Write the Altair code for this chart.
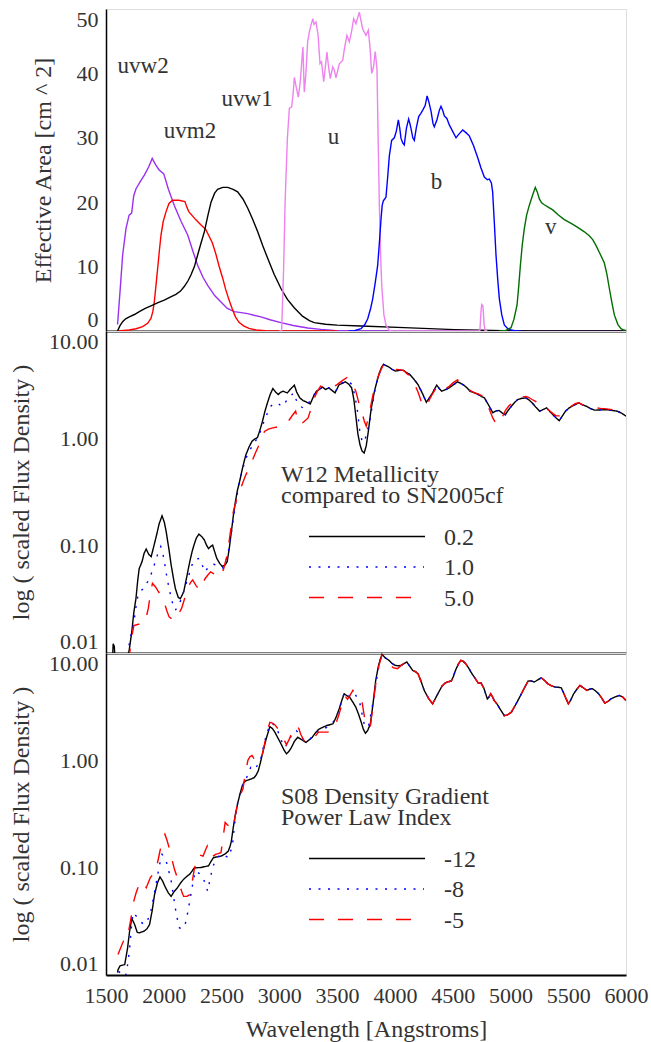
import altair as alt
import pandas as pd

FONT = "'Liberation Serif', 'Times New Roman', Times, serif"
TXT = "#333333"

# ---------------- Top panel: UVOT effective areas ----------------
uvw2_wl = [1600, 1625, 1644, 1673, 1700, 1722, 1740, 1760, 1800, 1832, 1870, 1900, 1930, 1960, 2000, 2040,
           2091, 2150, 2207, 2250, 2293, 2340, 2380, 2440, 2495, 2550, 2610, 2670, 2726, 2780, 2841, 2920,
           3014, 3120, 3245, 3360, 3473, 3600, 3800, 6000]
uvw2_area = [1.0, 7.0, 11.8, 15.9, 18.0, 18.3, 21.0, 22.1, 23.3, 24.2, 25.5, 26.8, 25.8, 25.0, 24.4, 22.0,
             19.5, 17.0, 14.9, 12.5, 10.2, 8.3, 7.1, 5.5, 4.5, 3.5, 3.0, 2.85, 2.7, 2.45, 2.2, 1.75,
             1.3, 0.85, 0.47, 0.25, 0.1, 0.03, 0.0, 0.0]

uvm2_wl = [1600, 1700, 1760, 1817, 1860, 1889, 1905, 1918, 1932, 1947, 1962, 1976, 1995, 2019, 2045, 2076,
           2130, 2183, 2200, 2218, 2276, 2320, 2362, 2420, 2450, 2478, 2510, 2535, 2565, 2593, 2620, 2651,
           2690, 2738, 2800, 2880, 3000, 3500]
uvm2_area = [0.0, 0.15, 0.35, 0.67, 1.2, 1.96, 3.0, 4.5, 7.0, 9.7, 12.5, 14.9, 17.0, 18.5, 19.8, 20.3,
             20.3, 20.1, 19.2, 18.5, 17.3, 16.5, 15.8, 13.7, 12.0, 10.1, 8.2, 6.5, 4.8, 3.4, 2.2, 1.35,
             0.8, 0.41, 0.15, 0.05, 0.0, 0.0]

uvw1_wl = [1600, 1620, 1644, 1670, 1702, 1750, 1788, 1840, 1889, 1950, 2004, 2060, 2105, 2145, 2177, 2210,
           2235, 2265, 2293, 2320, 2351, 2380, 2409, 2440, 2466, 2510, 2553, 2600, 2639, 2685, 2726, 2770,
           2813, 2855, 2899, 2955, 3014, 3070, 3129, 3200, 3260, 3302, 3400, 3500, 3707, 4081, 4514, 4947,
           5200, 6000]
uvw1_area = [0.0, 0.8, 1.45, 1.9, 2.2, 2.6, 3.0, 3.5, 3.9, 4.4, 4.8, 5.3, 5.7, 6.2, 6.9, 7.8,
             8.7, 10.0, 11.8, 13.5, 15.4, 17.8, 20.0, 21.4, 22.0, 22.3, 22.3, 22.0, 21.6, 20.5, 19.1, 17.3,
             15.4, 13.3, 11.3, 8.8, 6.6, 4.9, 3.6, 2.3, 1.6, 1.3, 1.05, 0.92, 0.78, 0.52, 0.21, 0.05,
             0.0, 0.0]

u_wl = [3000, 3020, 3037, 3050, 3058, 3070, 3087, 3107, 3120, 3130, 3145, 3164, 3181, 3195, 3204, 3216,
        3230, 3245, 3260, 3274, 3290, 3300, 3317, 3335, 3352, 3365, 3384, 3398, 3412, 3426, 3441, 3462,
        3476, 3490, 3519, 3548, 3565, 3585, 3606, 3625, 3643, 3663, 3692, 3721, 3750, 3770, 3785, 3799,
        3815, 3830, 3845, 3855, 3865, 3876, 3886, 3905, 3923, 3952, 3980, 4720, 4736, 4745, 4751, 4762,
        4772, 4780, 4800]
u_area = [0.0, 0.1, 9.7, 20.0, 24.2, 30.0, 34.6, 34.8, 37.0, 39.4, 38.0, 36.3, 38.7, 42.0, 44.1, 37.1,
          40.0, 44.9, 46.5, 47.5, 48.5, 47.6, 48.0, 46.0, 41.5, 41.8, 38.7, 41.0, 43.3, 41.0, 39.2, 41.0,
          40.5, 39.3, 41.5, 42.0, 44.0, 45.9, 44.9, 46.5, 48.5, 47.7, 49.5, 46.9, 45.9, 46.7, 44.0, 40.0,
          41.0, 43.4, 40.7, 30.0, 20.0, 12.0, 7.1, 2.5, 0.9, 0.1, 0.0, 0.0, 0.1, 3.0, 4.1, 3.9,
          1.0, 0.1, 0.0]

b_wl = [3600, 3650, 3707, 3740, 3765, 3790, 3808, 3830, 3851, 3865, 3880, 3890, 3900, 3912, 3923, 3938,
        3952, 3972, 3995, 4012, 4030, 4042, 4053, 4068, 4081, 4100, 4119, 4130, 4140, 4155, 4168, 4185,
        4206, 4225, 4241, 4262, 4279, 4295, 4313, 4330, 4341, 4364, 4385, 4399, 4415, 4428, 4450, 4471,
        4500, 4529, 4550, 4587, 4615, 4644, 4680, 4717, 4745, 4774, 4800, 4817, 4835, 4846, 4860, 4875,
        4890, 4904, 4925, 4947, 4975, 5005, 5050, 5100]
b_area = [0.0, 0.05, 0.36, 1.0, 1.9, 3.5, 5.0, 7.5, 10.2, 13.5, 17.4, 19.5, 20.2, 20.5, 20.8, 24.0,
          27.2, 29.6, 30.0, 31.0, 32.8, 31.5, 29.9, 29.2, 28.9, 31.5, 32.9, 32.2, 31.4, 30.0, 29.6, 31.5,
          33.3, 33.8, 34.3, 35.0, 36.5, 35.5, 34.1, 32.2, 31.7, 32.8, 34.3, 34.9, 34.2, 33.4, 33.0, 32.0,
          31.0, 30.0, 30.5, 31.2, 30.8, 30.3, 28.8, 26.9, 25.3, 23.9, 23.5, 23.6, 23.0, 21.6, 17.0, 11.8,
          8.0, 5.0, 2.5, 0.93, 0.4, 0.15, 0.0, 0.0]

v_wl = [4900, 4960, 5005, 5030, 5057, 5072, 5086, 5103, 5120, 5140, 5163, 5190, 5215, 5232, 5250, 5270,
        5293, 5330, 5366, 5415, 5466, 5525, 5582, 5640, 5682, 5712, 5740, 5775, 5812, 5835, 5856, 5878,
        5899, 5930, 5957, 5980, 6000]
v_area = [0.0, 0.1, 0.52, 1.8, 4.0, 7.0, 10.2, 13.5, 15.9, 18.0, 19.5, 21.0, 22.3, 21.6, 20.5, 19.9,
          19.6, 19.2, 18.8, 18.0, 17.3, 16.7, 16.1, 15.4, 14.8, 14.2, 13.3, 12.0, 10.6, 8.8, 6.6, 4.4,
          2.5, 1.0, 0.35, 0.15, 0.1]

filters = ["uvw2", "uvm2", "uvw1", "u", "b", "v"]
filter_colors = ["#9b30f0", "#ff0000", "#000000", "#ee82ee", "#0000ff", "#006e00"]
label_wl = [1600, 2000, 2500, 3420, 4310, 5300]
label_area = [40, 30, 35, 29, 22, 15]

# ---------------- Middle panel: W12 metallicity ----------------
w12_tail_wl = [3925, 3949, 3975, 4003, 4040, 4075, 4100, 4129, 4165, 4200, 4240, 4272, 4300, 4326, 4362,
               4385, 4405, 4440, 4470, 4505, 4542, 4570, 4596, 4625, 4650, 4690, 4721, 4750, 4775, 4810,
               4847, 4875, 4901, 4930, 4955, 4980, 5008, 5035, 5062, 5100, 5134, 5160, 5188, 5220, 5253,
               5285, 5314, 5340, 5368, 5395, 5422, 5450, 5476, 5503, 5530, 5560, 5591, 5625, 5656, 5690,
               5728, 5780, 5834, 5880, 5924, 5960, 6000]
w12_tail_flux = [4.75, 4.61, 4.40, 4.23, 4.30, 4.29, 4.10, 3.93, 3.55, 3.17, 2.60, 2.17, 2.40, 2.65, 3.13,
                 2.90, 2.75, 2.85, 2.95, 3.15, 3.36, 3.25, 3.13, 2.95, 2.75, 2.65, 2.56, 2.45, 2.38, 2.05,
                 1.73, 1.80, 1.82, 1.72, 1.66, 1.82, 1.99, 2.15, 2.30, 2.36, 2.38, 2.28, 2.14, 1.95, 1.79,
                 1.86, 1.92, 1.78, 1.66, 1.55, 1.46, 1.62, 1.79, 1.90, 1.99, 2.06, 2.14, 2.05, 1.99, 1.90,
                 1.83, 1.84, 1.85, 1.82, 1.79, 1.72, 1.61]

w12_02_wl = [1555, 1562, 1572, 1580, 1680, 1700, 1723, 1741, 1759, 1775, 1787, 1812, 1830, 1848, 1870, 1891,
             1915, 1938, 1960, 1985, 2005, 2021, 2045, 2064, 2083, 2100, 2125, 2143, 2172, 2200, 2225, 2245,
             2261, 2282, 2304, 2330, 2351, 2370, 2387, 2405, 2423, 2440, 2459, 2485, 2506, 2530, 2549, 2567,
             2585, 2602, 2620, 2638, 2656, 2685, 2710, 2740, 2764, 2790, 2811, 2833, 2854, 2875, 2897, 2920,
             2944, 2968, 2990, 3010, 3033, 3050, 3069, 3100, 3130, 3150, 3177, 3205, 3231, 3267, 3295, 3321,
             3345, 3374, 3400, 3428, 3455, 3482, 3500, 3518, 3545, 3572, 3600, 3626, 3645, 3662, 3680, 3698,
             3716, 3734, 3752, 3770, 3795, 3823, 3845, 3866, 3885, 3902]
w12_02_flux = [0.008, 0.0122, 0.0115, 0.008, 0.008, 0.0105, 0.0157, 0.024, 0.032, 0.048, 0.061, 0.071, 0.085,
               0.093, 0.083, 0.079, 0.100, 0.126, 0.160, 0.19, 0.165, 0.135, 0.092, 0.066, 0.050, 0.040,
               0.033, 0.032, 0.037, 0.052, 0.071, 0.088, 0.101, 0.118, 0.128, 0.121, 0.113, 0.101, 0.094,
               0.098, 0.101, 0.088, 0.076, 0.068, 0.064, 0.066, 0.071, 0.095, 0.135, 0.19, 0.258, 0.33,
               0.396, 0.55, 0.70, 0.84, 0.94, 0.99, 1.02, 1.20, 1.44, 1.78, 2.14, 2.55, 2.91, 2.70, 2.56,
               2.68, 2.75, 2.70, 2.65, 2.90, 3.13, 2.70, 2.38, 2.25, 2.19, 2.09, 2.45, 2.75, 2.85, 3.00,
               2.85, 2.95, 2.80, 2.65, 2.90, 3.17, 3.25, 3.36, 3.20, 2.95, 2.30, 1.61, 1.10, 0.87, 0.76,
               0.73, 0.85, 1.16, 1.90, 2.75, 3.40, 4.08, 4.60, 4.88]

w12_10_wl = [1650, 1687, 1712, 1741, 1760, 1777, 1800, 1830, 1855, 1877, 1900, 1927, 1950, 1974, 1992, 2010,
             2028, 2046, 2072, 2100, 2127, 2154, 2180, 2208, 2232, 2254, 2280, 2308, 2335, 2358, 2380, 2405,
             2430, 2459, 2485, 2513, 2535, 2559, 2580, 2602, 2630, 2656, 2685, 2710, 2740, 2764, 2790, 2818,
             2845, 2872, 2900, 2926, 2953, 2980, 3005, 3033, 3050, 3069, 3095, 3123, 3140, 3159, 3185, 3206,
             3235, 3267, 3295, 3321, 3345, 3374, 3400, 3428, 3455, 3482, 3518, 3545, 3572, 3600, 3626, 3650,
             3673, 3695, 3716, 3735, 3755, 3788, 3815, 3841, 3866, 3885, 3902]
w12_10_flux = [0.008, 0.010, 0.014, 0.0195, 0.027, 0.0346, 0.038, 0.040, 0.045, 0.0495, 0.058, 0.071, 0.085,
               0.098, 0.085, 0.066, 0.050, 0.040, 0.030, 0.025, 0.028, 0.032, 0.040, 0.0495, 0.060, 0.071,
               0.075, 0.076, 0.065, 0.057, 0.062, 0.066, 0.067, 0.066, 0.063, 0.062, 0.070, 0.088, 0.12,
               0.18, 0.28, 0.40, 0.53, 0.65, 0.76, 0.84, 0.93, 1.04, 1.22, 1.49, 1.75, 1.99, 2.10, 2.14,
               2.05, 1.99, 2.15, 2.30, 2.45, 2.65, 2.35, 2.14, 1.98, 1.92, 2.05, 2.22, 2.50, 2.75, 2.85,
               3.00, 2.85, 2.95, 2.80, 2.70, 3.10, 3.30, 3.40, 3.35, 3.20, 2.60, 1.92, 1.20, 0.94, 0.92,
               1.10, 1.55, 2.40, 3.30, 4.00, 4.60, 4.88]

w12_50_wl = [1690, 1705, 1722, 1741, 1780, 1810, 1830, 1850, 1866, 1885, 1902, 1930, 1956, 1980, 2003, 2025,
             2046, 2075, 2100, 2127, 2154, 2180, 2208, 2230, 2250, 2282, 2315, 2335, 2358, 2380, 2405, 2430,
             2459, 2495, 2520, 2549, 2575, 2602, 2630, 2656, 2685, 2710, 2740, 2764, 2790, 2818, 2845, 2872,
             2905, 2944, 2990, 3033, 3060, 3087, 3115, 3141, 3160, 3177, 3210, 3249, 3275, 3303, 3330, 3357,
             3390, 3428, 3465, 3500, 3545, 3590, 3625, 3662, 3690, 3716, 3735, 3752, 3770, 3788, 3815, 3841,
             3868, 3895, 3920, 3950, 3975, 4003, 4040, 4075, 4100, 4129, 4165, 4200, 4235, 4272, 4300, 4326,
             4362, 4385, 4405, 4440, 4470, 4505, 4542, 4570, 4596, 4625, 4650, 4690, 4721, 4750, 4775, 4810,
             4847, 4870, 4883, 4900, 4920, 4955, 4985, 5008, 5035, 5062, 5100, 5134, 5160, 5188, 5220, 5253,
             5285, 5314, 5340, 5368, 5395, 5422, 5450, 5476, 5503, 5530, 5560, 5591, 5625, 5656, 5690, 5728,
             5780, 5834, 5880, 5924, 5960, 6000]
w12_50_flux = [0.008, 0.010, 0.014, 0.018, 0.0185, 0.0185, 0.0187, 0.022, 0.026, 0.036, 0.0445, 0.041, 0.037,
               0.034, 0.030, 0.025, 0.0217, 0.0205, 0.020, 0.023, 0.026, 0.032, 0.040, 0.045, 0.048, 0.042,
               0.0385, 0.044, 0.0495, 0.053, 0.057, 0.055, 0.053, 0.051, 0.062, 0.082, 0.13, 0.208, 0.27,
               0.32, 0.39, 0.457, 0.53, 0.61, 0.72, 0.84, 1.00, 1.16, 1.22, 1.25, 1.28, 1.30, 1.40, 1.49,
               1.65, 1.79, 1.45, 1.34, 1.42, 1.55, 1.90, 2.38, 2.75, 3.06, 2.95, 2.85, 3.00, 3.17, 3.45,
               3.72, 3.35, 2.75, 2.10, 1.73, 1.45, 1.30, 1.55, 1.92, 2.70, 3.41, 4.10, 4.71, 4.85, 4.70,
               4.55, 4.40, 4.35, 4.30, 4.05, 3.80, 3.30, 2.70, 2.10, 1.95, 2.30, 2.60, 3.00, 2.85, 2.75,
               2.90, 3.05, 3.30, 3.50, 3.35, 3.20, 3.00, 2.80, 2.65, 2.60, 2.50, 2.40, 1.95, 1.55, 1.40,
               1.34, 1.36, 1.50, 1.80, 2.00, 2.10, 2.20, 2.35, 2.42, 2.45, 2.40, 2.30, 2.20, 1.95, 1.90,
               1.90, 1.80, 1.70, 1.62, 1.62, 1.70, 1.80, 1.90, 2.00, 2.10, 2.15, 2.05, 2.00, 1.95, 1.93,
               1.90, 1.88, 1.85, 1.82, 1.78, 1.78]

w12_labels = ["0.2", "1.0", "5.0"]

# ---------------- Bottom panel: S08 density gradient ----------------
s08_tail_wl = [3918, 3949, 3975, 4003, 4030, 4057, 4080, 4103, 4130, 4154, 4178, 4200, 4225, 4254, 4290,
               4326, 4352, 4380, 4407, 4434, 4460, 4488, 4505, 4524, 4547, 4570, 4590, 4613, 4640, 4667,
               4695, 4721, 4745, 4770, 4800, 4815, 4829, 4845, 4860, 4883, 4915, 4947, 4975, 5008, 5045,
               5080, 5115, 5152, 5180, 5206, 5235, 5267, 5295, 5324, 5355, 5386, 5413, 5440, 5470, 5501,
               5525, 5547, 5575, 5601, 5630, 5662, 5685, 5709, 5735, 5763, 5790, 5817, 5845, 5870, 5905,
               5942, 5970, 6000]
s08_tail_flux = [9.0, 8.53, 8.0, 7.67, 7.6, 7.67, 8.0, 8.24, 7.5, 6.88, 6.7, 6.41, 5.5, 4.48, 3.8,
                 3.36, 3.8, 4.33, 4.9, 5.25, 5.4, 5.47, 6.0, 6.88, 7.8, 8.53, 8.4, 7.94, 7.2, 6.41,
                 5.8, 5.25, 5.25, 4.7, 3.74, 3.9, 4.17, 3.9, 3.6, 3.36, 2.95, 2.61, 2.65, 2.81, 3.3,
                 3.88, 4.6, 5.47, 5.5, 5.36, 5.6, 5.88, 5.55, 5.16, 4.95, 4.81, 4.8, 4.74, 4.0, 3.36,
                 3.7, 4.17, 4.6, 4.99, 4.75, 4.48, 4.6, 4.65, 4.45, 4.17, 3.8, 3.41, 3.55, 3.74, 3.9,
                 4.02, 3.9, 3.61]

s08_12_wl = [1600, 1604, 1622, 1662, 1687, 1705, 1723, 1748, 1770, 1787, 1830, 1855, 1877, 1900, 1920, 1945,
             1967, 1990, 2010, 2040, 2064, 2090, 2118, 2145, 2172, 2200, 2225, 2245, 2261, 2290, 2315, 2350,
             2387, 2410, 2430, 2460, 2495, 2530, 2559, 2575, 2585, 2602, 2620, 2640, 2656, 2675, 2692, 2710,
             2728, 2755, 2782, 2800, 2818, 2836, 2854, 2872, 2890, 2905, 2918, 2940, 2961, 2990, 3015, 3040,
             3062, 3085, 3105, 3130, 3159, 3195, 3231, 3258, 3285, 3312, 3339, 3375, 3411, 3440, 3464, 3490,
             3518, 3540, 3561, 3585, 3608, 3635, 3662, 3685, 3709, 3727, 3745, 3765, 3788, 3810, 3834, 3860,
             3888]
s08_12_flux = [0.0105, 0.0112, 0.0122, 0.0125, 0.0179, 0.026, 0.0336, 0.0295, 0.025, 0.0247, 0.0256, 0.027,
               0.0295, 0.040, 0.056, 0.072, 0.082, 0.075, 0.067, 0.058, 0.054, 0.060, 0.065, 0.072, 0.078,
               0.083, 0.087, 0.093, 0.099, 0.100, 0.100, 0.102, 0.104, 0.115, 0.124, 0.126, 0.128, 0.134,
               0.143, 0.16, 0.177, 0.24, 0.315, 0.40, 0.468, 0.56, 0.62, 0.645, 0.655, 0.67, 0.69, 0.73,
               0.80, 0.95, 1.15, 1.38, 1.64, 1.85, 2.06, 1.98, 1.83, 1.60, 1.42, 1.25, 1.15, 1.22, 1.32,
               1.50, 1.64, 1.55, 1.47, 1.55, 1.64, 1.80, 1.94, 2.03, 2.11, 2.15, 2.19, 2.50, 3.02, 3.60,
               4.17, 4.00, 3.88, 3.50, 3.13, 2.70, 2.26, 1.95, 1.79, 1.90, 2.19, 3.30, 5.56, 7.80, 9.72]

s08_8_wl = [1608, 1640, 1669, 1690, 1705, 1720, 1734, 1755, 1776, 1805, 1830, 1857, 1884, 1910, 1938, 1962,
            1985, 2003, 2021, 2043, 2064, 2082, 2100, 2118, 2136, 2160, 2182, 2205, 2225, 2250, 2272, 2295,
            2315, 2335, 2351, 2365, 2380, 2400, 2423, 2440, 2459, 2485, 2513, 2535, 2559, 2577, 2595, 2612,
            2631, 2652, 2674, 2695, 2717, 2735, 2753, 2770, 2789, 2810, 2836, 2860, 2883, 2905, 2926, 2945,
            2961, 2985, 3010, 3030, 3051, 3078, 3105, 3125, 3148, 3180, 3213, 3240, 3267, 3300, 3339, 3375,
            3411, 3440, 3464, 3490, 3518, 3540, 3565, 3595, 3626, 3654, 3675, 3698, 3716, 3734, 3752, 3770,
            3795, 3824, 3850, 3875, 3890]
s08_8_flux = [0.0108, 0.0102, 0.0097, 0.013, 0.018, 0.028, 0.038, 0.036, 0.034, 0.031, 0.0295, 0.032, 0.037,
              0.052, 0.075, 0.105, 0.133, 0.125, 0.115, 0.093, 0.075, 0.056, 0.042, 0.033, 0.0275, 0.027,
              0.0285, 0.037, 0.049, 0.070, 0.093, 0.090, 0.087, 0.080, 0.075, 0.067, 0.0605, 0.078, 0.100,
              0.113, 0.124, 0.130, 0.133, 0.128, 0.124, 0.140, 0.165, 0.25, 0.36, 0.46, 0.56, 0.63, 0.69,
              0.78, 0.86, 0.84, 0.82, 0.90, 1.00, 1.30, 1.64, 1.95, 2.19, 2.18, 2.10, 1.90, 1.60, 1.42,
              1.32, 1.50, 1.70, 1.82, 1.89, 1.70, 1.53, 1.55, 1.58, 1.72, 1.89, 1.96, 2.03, 2.15, 2.26,
              2.55, 2.91, 3.60, 4.33, 4.05, 3.88, 4.17, 3.80, 3.36, 2.70, 2.19, 2.05, 2.03, 2.80, 4.17,
              6.50, 8.80, 9.60]

s08_5_wl = [1604, 1628, 1651, 1680, 1712, 1741, 1760, 1776, 1795, 1812, 1830, 1848, 1865, 1884, 1900, 1920,
            1945, 1967, 1990, 2010, 2028, 2046, 2070, 2093, 2115, 2136, 2155, 2172, 2200, 2225, 2245, 2261,
            2280, 2297, 2320, 2340, 2360, 2376, 2390, 2405, 2425, 2448, 2470, 2495, 2513, 2531, 2550, 2567,
            2585, 2598, 2618, 2638, 2660, 2685, 2705, 2728, 2746, 2764, 2782, 2800, 2825, 2847, 2865, 2883,
            2900, 2918, 2940, 2961, 2983, 3004, 3033, 3062, 3083, 3105, 3130, 3159, 3185, 3213, 3240, 3267,
            3300, 3339, 3375, 3411, 3440, 3464, 3490, 3518, 3540, 3565, 3590, 3615, 3637, 3660, 3680, 3700,
            3716, 3735, 3752, 3770, 3788, 3810, 3834, 3860, 3888, 3918, 3949, 3985, 4021, 4045, 4070, 4103]
s08_5_flux = [0.0155, 0.018, 0.0207, 0.0207, 0.0318, 0.049, 0.058, 0.065, 0.071, 0.075, 0.070, 0.065, 0.072,
              0.081, 0.085, 0.087, 0.110, 0.143, 0.180, 0.205, 0.180, 0.154, 0.120, 0.096, 0.082, 0.070,
              0.060, 0.054, 0.054, 0.056, 0.072, 0.093, 0.115, 0.133, 0.130, 0.128, 0.145, 0.159, 0.140,
              0.124, 0.128, 0.133, 0.135, 0.138, 0.19, 0.264, 0.25, 0.245, 0.23, 0.228, 0.30, 0.39, 0.47,
              0.54, 0.75, 1.00, 1.08, 1.11, 1.03, 0.96, 1.00, 1.07, 1.30, 1.64, 1.95, 2.26, 2.22, 2.15,
              2.00, 1.89, 1.62, 1.40, 1.55, 1.76, 1.95, 2.11, 1.75, 1.53, 1.50, 1.47, 1.62, 1.83, 1.83,
              1.83, 1.85, 1.89, 2.20, 2.71, 3.30, 4.02, 3.70, 4.10, 4.48, 4.10, 3.88, 3.70, 3.48, 2.60,
              2.03, 2.05, 2.10, 3.20, 5.16, 7.50, 9.50, 8.60, 7.94, 7.30, 7.14, 7.50, 7.90, 8.10]

s08_labels = ["-12", "-8", "-5"]

line_colors = ["#000000", "#0000ff", "#ff0000"]
line_dashes = [[1, 0], [2, 7.5], [15, 14]]


def frame(wl, val, name):
    return pd.DataFrame({"wl": wl, "v": val, "s": name})


W, H = 520, 322
xscale = alt.Scale(domain=[1500, 6000], nice=False, zero=False)
logscale = alt.Scale(type="log", domain=[0.01, 10], nice=False)

ax_common = dict(grid=False, ticks=False, domainColor="black", labelFont=FONT, labelColor=TXT,
                 titleFont=FONT, titleColor=TXT, titleFontWeight="normal", titleFontSize=24,
                 labelFontSize=22)
x_hidden = alt.Axis(labels=False, title=None, domainWidth=2, **ax_common)


def y_axis(title, values, fmt, tx):
    return alt.Axis(title=title, values=values, format=fmt, labelFlush=True, labelPadding=8,
                    domainWidth=1.5, titleX=tx, titleY=H / 2, titleBaseline="middle",
                    titleAngle=-90, **ax_common)


# ---- top chart
top_df = pd.concat([
    frame(uvw2_wl, uvw2_area, "uvw2"), frame(uvm2_wl, uvm2_area, "uvm2"),
    frame(uvw1_wl, uvw1_area, "uvw1"), frame(u_wl, u_area, "u"),
    frame(b_wl, b_area, "b"), frame(v_wl, v_area, "v")])
top_lines = alt.Chart(top_df).mark_line(strokeWidth=1.4, clip=True).encode(
    x=alt.X("wl:Q", scale=xscale, axis=x_hidden),
    y=alt.Y("v:Q", scale=alt.Scale(domain=[0, 50], nice=False),
            axis=y_axis("Effective Area [cm ^ 2]", [0, 10, 20, 30, 40, 50], "d", -63)),
    color=alt.Color("s:N", scale=alt.Scale(domain=filters, range=filter_colors), legend=None),
    order=alt.Order("wl:Q"),
)
lab_df = pd.DataFrame({"name": filters, "wl": label_wl, "v": label_area})
top_labels = alt.Chart(lab_df).mark_text(font=FONT, fontSize=23, color=TXT, align="left",
                                         baseline="alphabetic").encode(
    x=alt.X("wl:Q", scale=xscale), y=alt.Y("v:Q"), text="name:N")
top = alt.layer(top_lines, top_labels).properties(width=W, height=H)


def spectra_panel(series, names, title_lines, x_axis):
    df = pd.concat([frame(w, f, n) for (w, f), n in zip(series, names)])
    lines = alt.Chart(df).mark_line(strokeWidth=1.4, clip=True).encode(
        x=alt.X("wl:Q", scale=xscale, axis=x_axis),
        y=alt.Y("v:Q", scale=logscale,
                axis=y_axis("log ( scaled Flux Density )", [0.01, 0.1, 1, 10], ".2f", -85)),
        color=alt.Color("s:N", scale=alt.Scale(domain=names, range=line_colors), legend=None),
        strokeDash=alt.StrokeDash("s:N", scale=alt.Scale(domain=names, range=line_dashes), legend=None),
        order=alt.Order("wl:Q"),
    )
    layers = [lines]
    for i, t in enumerate(title_lines):
        layers.append(alt.Chart(pd.DataFrame({"t": [t]})).mark_text(
            font=FONT, fontSize=24, color=TXT, align="left", baseline="alphabetic").encode(
            x=alt.value(175), y=alt.value(151 + 20.5 * i), text="t:N"))
    ends = [319, 318, 305]
    for i, n in enumerate(names):
        d = pd.DataFrame({"t": [n]})
        layers.append(alt.Chart(d).mark_rule(color=line_colors[i], strokeWidth=1.4,
                                             strokeDash=line_dashes[i]).encode(
            x=alt.value(203), x2=alt.value(ends[i]), y=alt.value(205.5 + 30.5 * i)))
        layers.append(alt.Chart(d).mark_text(font=FONT, fontSize=24, color=TXT, align="left",
                                             baseline="alphabetic").encode(
            x=alt.value(338), y=alt.value(213.5 + 30.5 * i), text="t:N"))
    return alt.layer(*layers).properties(width=W, height=H)


mid = spectra_panel(
    [(w12_02_wl + w12_tail_wl, w12_02_flux + w12_tail_flux),
     (w12_10_wl + w12_tail_wl, w12_10_flux + w12_tail_flux),
     (w12_50_wl, w12_50_flux)],
    w12_labels, ["W12 Metallicity", "compared to SN2005cf"], x_hidden)

x_bottom = alt.Axis(title="Wavelength [Angstroms]", values=list(range(1500, 6001, 500)), format="d",
                    labelFlush=False, labelOverlap=False, labelBaseline="alphabetic", labelPadding=27,
                    domainWidth=2, titleBaseline="alphabetic", titleY=61, titleX=W / 2,
                    **ax_common)
bot = spectra_panel(
    [(s08_12_wl + s08_tail_wl, s08_12_flux + s08_tail_flux),
     (s08_8_wl + s08_tail_wl, s08_8_flux + s08_tail_flux),
     (s08_5_wl + s08_tail_wl[6:], s08_5_flux + s08_tail_flux[6:])],
    s08_labels, ["S08 Density Gradient", "Power Law Index"], x_bottom)

chart = alt.vconcat(top, mid, bot, spacing=0, bounds="flush").resolve_scale(
    color="independent", strokeDash="independent", y="independent"
).properties(
    padding={"left": 8, "top": 7, "right": 2, "bottom": 0}
).configure_view(stroke="black", strokeWidth=1).configure(background="white")

chart.save("out.html", embed_options={"renderer": "svg", "actions": False})
